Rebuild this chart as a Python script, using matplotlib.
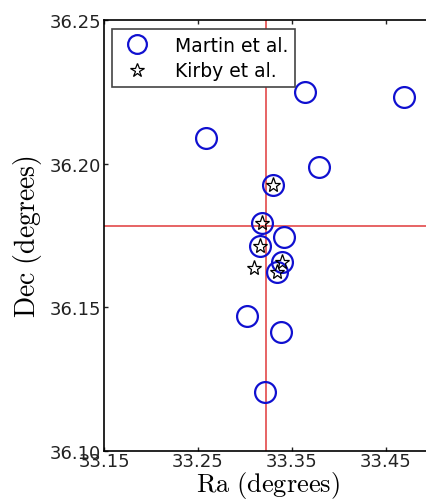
import numpy as np
import matplotlib
matplotlib.use('Agg')
import matplotlib.pyplot as plt

plt.rcParams['mathtext.fontset'] = 'cm'

# Martin et al. member positions (degrees)
martin_ra = [33.2585, 33.3635, 33.469, 33.3787, 33.330, 33.3184, 33.3415,
             33.316, 33.3397, 33.3344, 33.3018, 33.338, 33.3213]
martin_dec = [36.2089, 36.225, 36.2233, 36.1989, 36.1926, 36.1793, 36.1745,
              36.1713, 36.1659, 36.1622, 36.147, 36.1414, 36.1205]

# Kirby et al. member positions (degrees)
kirby_ra = [33.330, 33.3184, 33.316, 33.3097, 33.3397, 33.3344]
kirby_dec = [36.1926, 36.1793, 36.1713, 36.1637, 36.1659, 36.1622]

# galaxy centre
ra0, dec0 = 33.322, 36.1783

fig = plt.figure(figsize=(4.27, 5.02), dpi=100)
ax = fig.add_axes([0.2436, 0.0996, 0.77, 0.8585])

ax.axvline(ra0, color='#e0393b', lw=1.1, zorder=1)
ax.axhline(dec0, color='#e0393b', lw=1.1, zorder=1)

ax.plot(martin_ra, martin_dec, 'o', mfc='none', mec='#1010d0', mew=1.6,
        ms=15, ls='none', label='Martin et al.', zorder=2)
ax.plot(kirby_ra, kirby_dec, '*', mfc='none', mec='black', mew=0.9,
        ms=11, ls='none', label='Kirby et al.', zorder=3)

ax.set_xlim(33.15, 33.50)
ax.set_ylim(36.10, 36.25)
ax.set_xticks([33.15, 33.25, 33.35, 33.45])
ax.set_yticks([36.10, 36.15, 36.20, 36.25])
ax.set_xticklabels(['33.15', '33.25', '33.35', '33.45'])
ax.set_yticklabels(['36.10', '36.15', '36.20', '36.25'])
ax.tick_params(direction='in', length=3, width=1, labelsize=13,
               top=True, right=True, colors='#222222')
ax.tick_params(axis='x', pad=1)
ax.tick_params(axis='y', pad=2)
for s in ax.spines.values():
    s.set_linewidth(1.2)

ax.set_xlabel(r'$\mathrm{Ra\ (degrees)}$', fontsize=19, labelpad=-1)
ax.set_ylabel(r'$\mathrm{Dec\ (degrees)}$', fontsize=20, labelpad=4)

leg = ax.legend(loc='upper left', bbox_to_anchor=(0.024, 0.979), fontsize=13.5,
                fancybox=False, edgecolor='#444444', framealpha=1,
                borderpad=0.35, borderaxespad=0, handletextpad=1.0,
                labelspacing=0.35, markerscale=0.9)
leg.get_frame().set_linewidth(1.2)

fig.savefig('out.png', dpi=100)
